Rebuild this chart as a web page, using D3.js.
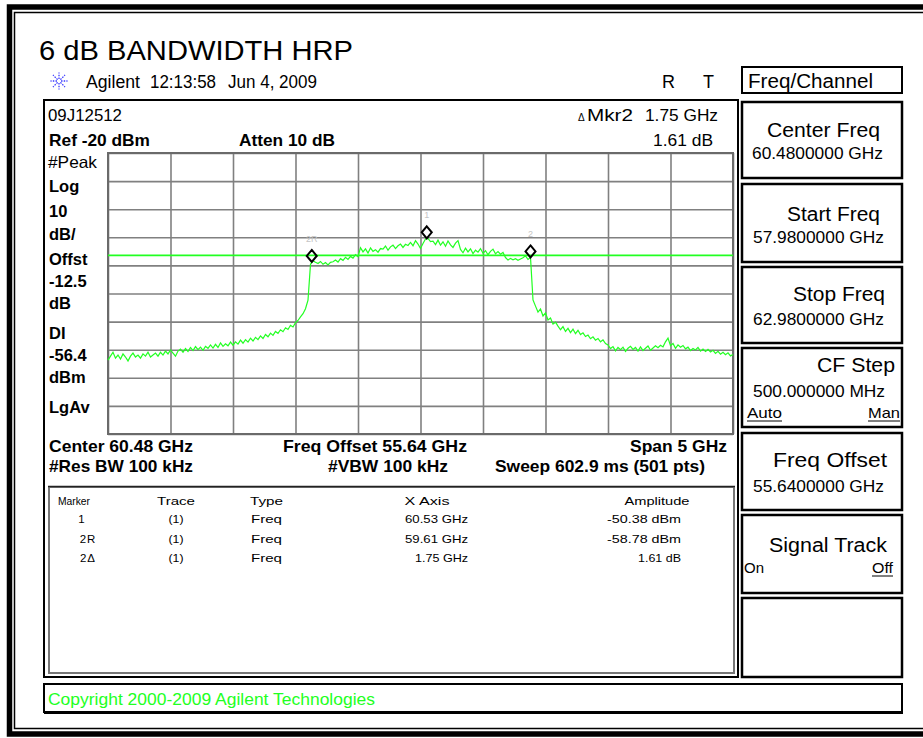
<!DOCTYPE html>
<html><head><meta charset="utf-8">
<script src="https://cdn.jsdelivr.net/npm/d3@7"></script>
<style>body{margin:0;background:#fff}svg{display:block}text{font-family:Arial,"Liberation Sans",sans-serif}</style>
</head><body><svg id="c" width="923" height="738"></svg>
<script>
// ---------- data ----------
const startFreqGHz = 57.98;
const stopFreqGHz = 62.98;
const refLevelDbm = -20;
const dbPerDiv = 10;
const numDivs = 10;
const displayLineDbm = -56.4;
// trace amplitude (dBm), 251 readings evenly spaced over the span
const traceDbm = [
-93.7,-92.3,-90.9,-93.0,-91.9,-93.3,-91.5,-92.6,-94.0,-92.3,
-91.2,-92.6,-91.9,-93.0,-91.5,-92.3,-90.9,-92.6,-91.9,-91.2,
-92.3,-90.9,-91.9,-90.5,-91.5,-90.1,-91.2,-92.3,-90.5,-89.8,
-90.9,-89.6,-90.6,-89.2,-90.3,-88.9,-90.0,-89.1,-90.2,-88.8,
-89.5,-88.3,-89.4,-88.1,-89.2,-87.6,-88.8,-87.9,-88.6,-87.3,
-88.4,-87.2,-88.0,-86.6,-87.7,-86.4,-87.3,-85.9,-86.9,-85.6,
-86.4,-85.1,-86.0,-84.6,-85.4,-84.1,-84.9,-83.5,-84.2,-82.9,
-83.6,-82.2,-82.8,-81.3,-81.9,-80.4,-79.6,-78.3,-77.2,-75.4,
-72.4,-59.6,-58.4,-58.9,-59.3,-58.6,-59.6,-59.0,-59.8,-58.9,
-58.7,-58.1,-58.8,-57.6,-58.2,-57.1,-57.9,-56.8,-57.4,-56.2,
-56.9,-53.7,-55.2,-54.1,-55.6,-53.8,-55.0,-54.4,-55.3,-54.0,
-54.2,-53.1,-54.6,-53.4,-52.8,-54.0,-53.0,-52.4,-53.6,-52.5,
-52.9,-51.8,-53.0,-51.2,-52.4,-54.0,-52.2,-50.6,-50.4,-51.5,
-51.4,-52.6,-51.0,-52.8,-51.6,-53.2,-51.3,-52.7,-53.6,-52.1,
-51.2,-54.3,-55.5,-53.9,-55.2,-54.1,-55.8,-54.6,-55.3,-54.0,
-55.7,-54.8,-56.2,-55.0,-54.2,-55.9,-55.1,-56.0,-55.4,-57.2,
-58.1,-57.5,-58.0,-57.6,-58.2,-57.7,-57.3,-56.6,-57.9,-57.2,
-72.3,-74.5,-76.6,-75.5,-78.0,-76.9,-79.4,-78.7,-80.9,-80.2,
-81.6,-82.9,-81.8,-83.5,-82.4,-83.9,-82.7,-84.3,-83.1,-84.6,
-84.0,-85.3,-84.8,-86.1,-85.4,-86.6,-86.0,-87.2,-86.5,-87.8,
-88.3,-89.6,-88.9,-90.4,-89.2,-90.0,-89.1,-90.6,-89.5,-88.8,
-89.9,-89.2,-90.5,-89.0,-90.3,-89.5,-88.7,-90.2,-89.4,-88.6,
-89.3,-88.4,-89.0,-87.2,-85.9,-88.6,-87.8,-89.5,-88.3,-89.1,
-88.5,-89.7,-89.1,-90.3,-89.6,-90.1,-89.2,-90.5,-89.8,-90.6,
-89.9,-90.8,-90.2,-91.3,-90.6,-91.6,-90.9,-91.8,-91.1,-92.2,-91.7
];
const markerNames = ["1", "2R", "2"];
const markerFreqGHz = [60.53, 59.61, 61.36];
const markerAmpDbm = [-50.38, -58.78, -57.17];

const tableHeaders = ["Marker", "Trace", "Type", "X Axis", "Amplitude"];
const tableMarker = ["1", "2R", "2\u0394"];
const tableTrace = ["(1)", "(1)", "(1)"];
const tableType = ["Freq", "Freq", "Freq"];
const tableXAxis = ["60.53 GHz", "59.61 GHz", "1.75 GHz"];
const tableAmplitude = ["-50.38 dBm", "-58.78 dBm", "1.61 dB"];

const leftLabels = ["Log", "10", "dB/", "Offst", "-12.5", "dB", "DI", "-56.4", "dBm", "LgAv"];

// ---------- drawing ----------
const svg = d3.select("#c");
const GREEN = "#22ff22";

function T(x, y, s, o = {}) {
  const t = svg.append("text").attr("x", x).attr("y", y).text(s)
    .attr("font-size", o.size || 16)
    .attr("font-weight", o.bold ? "bold" : "normal")
    .attr("fill", o.fill || "#000")
    .attr("text-anchor", o.anchor || "start");
  if (o.len) t.attr("textLength", o.len).attr("lengthAdjust", "spacingAndGlyphs");
  if (o.ls) t.attr("letter-spacing", o.ls);
  return t;
}
function L(x1, y1, x2, y2, c, w) {
  svg.append("line").attr("x1", x1).attr("y1", y1).attr("x2", x2).attr("y2", y2)
    .attr("stroke", c).attr("stroke-width", w);
}
function R(x, y, w, h, c, sw) {
  svg.append("rect").attr("x", x).attr("y", y).attr("width", w).attr("height", h)
    .attr("fill", "none").attr("stroke", c).attr("stroke-width", sw);
}

// outer frames
R(9.5, 7, 1000, 727, "#000", 5.5);
R(14.5, 12.5, 1000, 716, "#000", 1.5);

// title
T(39, 60, "6 dB BANDWIDTH HRP", {size: 27, len: 314});
// agilent sparkle
const sp = svg.append("g").attr("transform", "translate(59,81)");
for (let k = 0; k < 8; k++) {
  const a = k * Math.PI / 4;
  sp.append("line").attr("x1", 2 * Math.cos(a)).attr("y1", 2 * Math.sin(a))
    .attr("x2", 8.5 * Math.cos(a)).attr("y2", 8.5 * Math.sin(a))
    .attr("stroke", "#3a3aff").attr("stroke-width", 1.3).attr("stroke-dasharray", "1.5,1.2");
}
T(86, 88, "Agilent", {size: 17.5, len: 54});
T(150, 88, "12:13:58", {size: 17.5, len: 66});
T(228, 88, "Jun 4, 2009", {size: 17.5, len: 89});
T(662, 88, "R", {size: 18});
T(703, 88, "T", {size: 18});

// main box
R(44, 100, 694, 577, "#000", 2);
T(48, 121, "09J12512", {size: 16.5, len: 74});
T(578, 121, "\u0394", {size: 10});
T(587, 121, "Mkr2", {size: 16.5, len: 46});
T(645, 121, "1.75 GHz", {size: 16.5, len: 73});
T(49, 146, "Ref -20 dBm", {size: 16.5, bold: true, len: 101});
T(239, 146, "Atten 10 dB", {size: 16.5, bold: true, len: 96});
T(653, 146, "1.61 dB", {size: 16.5, len: 60});
T(48, 168, "#Peak", {size: 16.5, len: 49});
const leftBase = [192, 217, 240, 265, 287, 309, 339, 361, 383, 413];
leftLabels.forEach((s, i) => T(49, leftBase[i], s, {size: 16.5, bold: true}));

// scales
const gx0 = 108, gx1 = 733, gy0 = 153, gy1 = 434;
const x = d3.scaleLinear().domain([startFreqGHz, stopFreqGHz]).range([gx0, gx1]);
const y = d3.scaleLinear().domain([refLevelDbm - numDivs * dbPerDiv, refLevelDbm]).range([gy1, gy0]);
const fStep = (stopFreqGHz - startFreqGHz) / numDivs;
const xTicks = d3.range(numDivs + 1).map(i => startFreqGHz + i * fStep);
const yTicks = d3.range(numDivs + 1).map(i => refLevelDbm - i * dbPerDiv);

const gxAxis = svg.append("g").attr("transform", `translate(0,${gy1})`)
  .call(d3.axisBottom(x).tickValues(xTicks).tickSize(-(gy1 - gy0)).tickFormat(""));
const gyAxis = svg.append("g").attr("transform", `translate(${gx0},0)`)
  .call(d3.axisLeft(y).tickValues(yTicks).tickSize(-(gx1 - gx0)).tickFormat(""));
[gxAxis, gyAxis].forEach(g => {
  g.select(".domain").remove();
  g.selectAll(".tick line").attr("stroke", "#808080").attr("stroke-width", 1.6);
});
R(gx0, gy0, gx1 - gx0, gy1 - gy0, "#6a6a6a", 2);

// display line
L(gx0, y(displayLineDbm), gx1, y(displayLineDbm), GREEN, 1.8);

// trace
const tStep = (stopFreqGHz - startFreqGHz) / (traceDbm.length - 1);
svg.append("path").datum(traceDbm)
  .attr("d", d3.line().x((d, i) => x(startFreqGHz + i * tStep)).y(d => y(d)))
  .attr("fill", "none").attr("stroke", GREEN).attr("stroke-width", 1.2);

// markers
markerNames.forEach((n, i) => {
  const cx = x(markerFreqGHz[i]), cy = y(markerAmpDbm[i]) - 6;
  svg.append("path").attr("d", `M${cx},${cy - 6}L${cx + 5},${cy}L${cx},${cy + 6}L${cx - 5},${cy}Z`)
    .attr("fill", "none").attr("stroke", "#000").attr("stroke-width", 2);
  T(cx, cy - 14, n, {size: 9, anchor: "middle", fill: "#c4c4c4"});
});

// bottom annotations
T(49, 452, "Center 60.48 GHz", {size: 17, bold: true, len: 144});
T(283, 452, "Freq Offset 55.64 GHz", {size: 17, bold: true, len: 184});
T(727, 452, "Span 5 GHz", {size: 17, bold: true, anchor: "end", len: 97});
T(49, 472, "#Res BW 100 kHz", {size: 17, bold: true, len: 144});
T(328, 472, "#VBW 100 kHz", {size: 17, bold: true, len: 120});
T(705, 472, "Sweep 602.9 ms (501 pts)", {size: 17, bold: true, anchor: "end", len: 210});

// marker table
R(49, 487, 685, 186, "#777", 2);
L(48, 486.5, 735, 486.5, "#222", 1.5);
const hdrX = [74, 176, 250, 427, 657], hdrAnchor = ["middle", "middle", "start", "middle", "middle"], hdrLen = [32, 38, 33, 45, 65];
tableHeaders.forEach((h, i) => T(hdrX[i], 505, h, {size: 11.5, anchor: hdrAnchor[i], len: hdrLen[i]}));
const rowY = [523, 543, 562];
tableMarker.forEach((s, i) => {
  T(i === 0 ? 82 : 88, rowY[i], s, {size: 11.5, anchor: "middle", ls: 1});
  T(176, rowY[i], tableTrace[i], {size: 11.5, anchor: "middle", len: 15});
  T(251, rowY[i], tableType[i], {size: 11.5, len: 31});
  T(468, rowY[i], tableXAxis[i], {size: 11.5, anchor: "end", len: i === 2 ? 53 : 63});
  T(681, rowY[i], tableAmplitude[i], {size: 11.5, anchor: "end", len: i === 2 ? 43 : 74});
});

// soft keys
R(742, 67, 160, 26, "#000", 2);
T(748, 88, "Freq/Channel", {size: 20, len: 125});
const boxes = [[102, 76], [184, 78], [267, 76], [348, 79], [433, 77], [515, 78], [598, 79]];
boxes.forEach(b => R(742, b[0], 160, b[1], "#000", 2.5));
T(767, 137, "Center Freq", {size: 20, len: 113});
T(752, 159, "60.4800000 GHz", {size: 16.5, len: 131});
T(787, 221, "Start Freq", {size: 20, len: 93});
T(753, 243, "57.9800000 GHz", {size: 16.5, len: 131});
T(793, 301, "Stop Freq", {size: 20, len: 92});
T(753, 325, "62.9800000 GHz", {size: 16.5, len: 131});
T(817, 372, "CF Step", {size: 20, len: 78});
T(753, 397, "500.000000 MHz", {size: 16.5, len: 132});
T(747, 418, "Auto", {size: 15, len: 35});
L(747, 421, 782, 421, "#000", 1);
T(900, 418, "Man", {size: 15, anchor: "end", len: 32});
L(868, 421, 900, 421, "#000", 1);
T(773, 467, "Freq Offset", {size: 20, len: 114});
T(753, 492, "55.6400000 GHz", {size: 16.5, len: 131});
T(769, 552, "Signal Track", {size: 20, len: 118});
T(744, 573, "On", {size: 15});
T(893, 573, "Off", {size: 15, anchor: "end", len: 21});
L(872, 576, 893, 576, "#000", 1);

// copyright box
R(44, 684, 858, 28, "#000", 2);
L(44, 712.5, 903, 712.5, "#000", 3);
T(48, 705, "Copyright 2000-2009 Agilent Technologies", {size: 17, fill: GREEN, len: 327});
</script></body></html>
